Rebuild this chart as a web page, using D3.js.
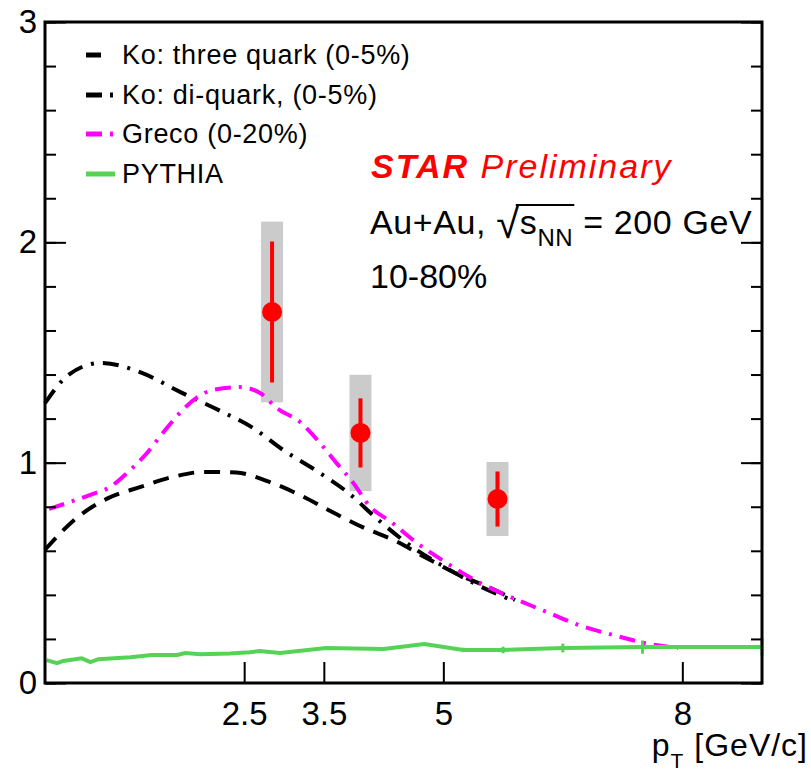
<!DOCTYPE html>
<html>
<head>
<meta charset="utf-8">
<script src="https://cdn.jsdelivr.net/npm/d3@7"></script>
<style>
  body { margin: 0; background: #fff; }
  svg { font-family: "Liberation Sans", Arial, Helvetica, sans-serif; }
</style>
</head>
<body>
<div id="chart"></div>
<script>
// ---- data ----
const koThreeX = [0, 0.4, 0.8, 1.2, 1.6, 2.0, 2.4, 2.8, 3.2, 3.6, 4.0, 4.4, 4.8, 5.2, 5.6, 5.9];
const koThreeY = [0.605, 0.75, 0.84, 0.89, 0.935, 0.958, 0.955, 0.915, 0.853, 0.777, 0.705, 0.645, 0.565, 0.49, 0.43, 0.377];

const koDiX = [0, 0.3, 0.7, 1.2, 1.7, 2.2, 2.6, 3.0, 3.4, 3.8, 4.2, 4.6, 5.0, 5.4, 5.9];
const koDiY = [1.27, 1.40, 1.453, 1.41, 1.32, 1.235, 1.16, 1.055, 0.965, 0.865, 0.735, 0.62, 0.53, 0.45, 0.37];

const grecoX = [0.05, 0.56, 0.82, 1.03, 1.28, 1.48, 1.69, 1.9, 2.11, 2.45, 2.7, 2.91, 3.2, 3.45, 3.66, 3.87, 4.08, 4.33, 4.67, 5.04, 5.46, 5.87, 6.3, 6.7, 7.13, 7.55, 7.95];
const grecoY = [0.79, 0.853, 0.89, 0.953, 1.044, 1.135, 1.225, 1.294, 1.33, 1.343, 1.316, 1.248, 1.185, 1.09, 0.998, 0.908, 0.8, 0.735, 0.635, 0.545, 0.454, 0.386, 0.322, 0.263, 0.218, 0.18, 0.159];

const pythiaX = [0.02, 0.15, 0.23, 0.46, 0.57, 0.67, 1.07, 1.34, 1.66, 1.76, 1.95, 2.32, 2.57, 2.69, 2.95, 3.53, 4.25, 4.76, 5.25, 5.75, 6.5, 7.5, 9.0];
const pythiaY = [0.104, 0.09, 0.1, 0.112, 0.095, 0.108, 0.117, 0.127, 0.127, 0.136, 0.13, 0.134, 0.14, 0.145, 0.136, 0.159, 0.154, 0.177, 0.15, 0.15, 0.159, 0.163, 0.163];
const pythiaErrX = [5.25, 5.75, 6.5, 7.5, 9.0];
const pythiaErrY = [0.15, 0.15, 0.159, 0.163, 0.163];
const pythiaErr = [0.01, 0.015, 0.02, 0.03, 0.04];

const starX = [2.85, 3.96, 5.68];
const starY = [1.684, 1.135, 0.835];
const starStat = [0.32, 0.157, 0.125];
const starSys = [0.41, 0.264, 0.168];

const xTicks = [2.5, 3.5, 5, 8];
const xTickLabels = ['2.5', '3.5', '5', '8'];
const yMajor = [0, 1, 2, 3];
const yMinor = d3.range(0, 3.001, 0.2);

const legendNames = ['Ko: three quark (0-5%)', 'Ko: di-quark, (0-5%)', 'Greco (0-20%)', 'PYTHIA'];

// ---- layout ----
const width = 811;
const height = 772;
const margin = {top: 22, right: 49, bottom: 89, left: 45};
const w = width - margin.left - margin.right;
const h = height - margin.top - margin.bottom;

const x = d3.scaleLinear().domain([0, 9]).range([0, w]);
const y = d3.scaleLinear().domain([0, 3]).range([h, 0]);

const svg = d3.select('#chart').append('svg')
    .attr('width', width)
    .attr('height', height);

const g = svg.append('g')
    .attr('transform', `translate(${margin.left},${margin.top})`);

const zip = (xs, ys) => xs.map((v, i) => [v, ys[i]]);

const styles = [
    {color: '#000', dash: '16,10', data: zip(koThreeX, koThreeY), curve: d3.curveMonotoneX},
    {color: '#000', dash: '16,9,3,9', data: zip(koDiX, koDiY), curve: d3.curveMonotoneX},
    {color: '#ff00ff', dash: '16,8,3,8', data: zip(grecoX, grecoY), curve: d3.curveMonotoneX},
    {color: '#55d355', dash: null, data: zip(pythiaX, pythiaY), curve: d3.curveLinear}
];

// sys boxes first
g.selectAll('rect.sys')
    .data(starX)
    .enter()
    .append('rect')
    .attr('class', 'sys')
    .attr('x', d => x(d) - 11)
    .attr('width', 22)
    .attr('y', (d, i) => y(starY[i] + starSys[i]))
    .attr('height', (d, i) => y(starY[i] - starSys[i]) - y(starY[i] + starSys[i]))
    .attr('fill', '#cbcbcb');

// model curves
styles.forEach(s => {
    const line = d3.line()
        .x(d => x(d[0]))
        .y(d => y(d[1]))
        .curve(s.curve);
    g.append('path')
        .datum(s.data)
        .attr('d', line)
        .attr('fill', 'none')
        .attr('stroke', s.color)
        .attr('stroke-width', 4)
        .attr('stroke-dasharray', s.dash);
});

// pythia error ticks
g.selectAll('line.perr')
    .data(pythiaErrX)
    .enter()
    .append('line')
    .attr('x1', d => x(d))
    .attr('x2', d => x(d))
    .attr('y1', (d, i) => y(pythiaErrY[i] + pythiaErr[i]))
    .attr('y2', (d, i) => y(pythiaErrY[i] - pythiaErr[i]))
    .attr('stroke', '#55d355')
    .attr('stroke-width', 3);

// star points
g.selectAll('line.stat')
    .data(starX)
    .enter()
    .append('line')
    .attr('x1', d => x(d))
    .attr('x2', d => x(d))
    .attr('y1', (d, i) => y(starY[i] + starStat[i]))
    .attr('y2', (d, i) => y(starY[i] - starStat[i]))
    .attr('stroke', '#ff0000')
    .attr('stroke-width', 4);

g.selectAll('circle.pt')
    .data(starX)
    .enter()
    .append('circle')
    .attr('cx', d => x(d))
    .attr('cy', (d, i) => y(starY[i]))
    .attr('r', 10)
    .attr('fill', '#ff0000');

// axes
const axisFont = 33;

const xAxis = g.append('g')
    .attr('transform', `translate(0,${h})`)
    .call(d3.axisBottom(x).tickValues(xTicks).tickSize(-21).tickPadding(19)
        .tickFormat((d, i) => xTickLabels[i]));

const yMinorAxis = g.append('g')
    .call(d3.axisLeft(y).tickValues(yMinor).tickSize(-11).tickFormat(''));
const yAxis = g.append('g')
    .call(d3.axisLeft(y).tickValues(yMajor).tickSize(-21).tickPadding(8).tickFormat(d3.format('d')));
const yMinorR = g.append('g')
    .attr('transform', `translate(${w},0)`)
    .call(d3.axisRight(y).tickValues(yMinor).tickSize(-11).tickFormat(''));
const yMajorR = g.append('g')
    .attr('transform', `translate(${w},0)`)
    .call(d3.axisRight(y).tickValues(yMajor).tickSize(-21).tickFormat(''));

[xAxis, yMinorAxis, yAxis, yMinorR, yMajorR].forEach(a => {
    a.select('.domain').remove();
    a.selectAll('line').attr('stroke', '#000').attr('stroke-width', 2);
    a.selectAll('text')
        .attr('font-size', axisFont)
        .attr('font-family', '"Liberation Sans", Arial, sans-serif')
        .attr('fill', '#000');
});

g.append('rect')
    .attr('width', w)
    .attr('height', h)
    .attr('fill', 'none')
    .attr('stroke', '#000')
    .attr('stroke-width', 3);

// x title
const xt = svg.append('text')
    .attr('x', 808)
    .attr('y', 756)
    .attr('text-anchor', 'end')
    .attr('font-size', 32)
    .attr('letter-spacing', 1)
    .attr('fill', '#000');
xt.append('tspan').text('p');
xt.append('tspan').attr('font-size', 21).attr('dy', 12).text('T');
xt.append('tspan').attr('dy', -12).text(' [GeV/c]');

// legend
const legend = svg.append('g');
const rowY = [55, 95, 134, 174];
legendNames.forEach((name, i) => {
    legend.append('line')
        .attr('x1', 86)
        .attr('x2', 115)
        .attr('y1', rowY[i])
        .attr('y2', rowY[i])
        .attr('stroke', styles[i].color)
        .attr('stroke-width', 5)
        .attr('stroke-dasharray', i === 0 ? '15,20' : (i === 3 ? null : '16,8,3,8'));
    legend.append('text')
        .attr('x', 122)
        .attr('y', rowY[i] + 9)
        .attr('font-size', 27)
        .attr('letter-spacing', 0.7)
        .attr('fill', '#000')
        .text(name);
});

// annotations
const star = svg.append('text')
    .attr('x', 371)
    .attr('y', 178)
    .attr('font-size', 34)
    .attr('letter-spacing', 2)
    .attr('fill', '#ff0000')
    .attr('font-style', 'italic');
star.append('tspan').attr('font-weight', 'bold').text('STAR');
star.append('tspan').text(' Preliminary');

const au = svg.append('text')
    .attr('x', 370)
    .attr('y', 234)
    .attr('font-size', 34)
    .attr('letter-spacing', 0.6)
    .attr('fill', '#000');
au.append('tspan').text('Au+Au, ');
au.append('tspan').attr('font-size', 42).attr('dy', 4).text('\u221A');
au.append('tspan').attr('dy', -4).text('s');
au.append('tspan').attr('font-size', 24).attr('dy', 12).text('NN');
au.append('tspan').attr('dy', -12).text(' = 200 GeV');

const node = au.node();
const ox1 = node.getStartPositionOfChar(8).x - 1;
const ox2 = node.getEndPositionOfChar(10).x + 1;
svg.append('line')
    .attr('x1', ox1 - 3)
    .attr('x2', ox2)
    .attr('y1', 205)
    .attr('y2', 205)
    .attr('stroke', '#000')
    .attr('stroke-width', 2);

svg.append('text')
    .attr('x', 370)
    .attr('y', 288)
    .attr('font-size', 34)
    .attr('fill', '#000')
    .text('10-80%');
</script>
</body>
</html>
